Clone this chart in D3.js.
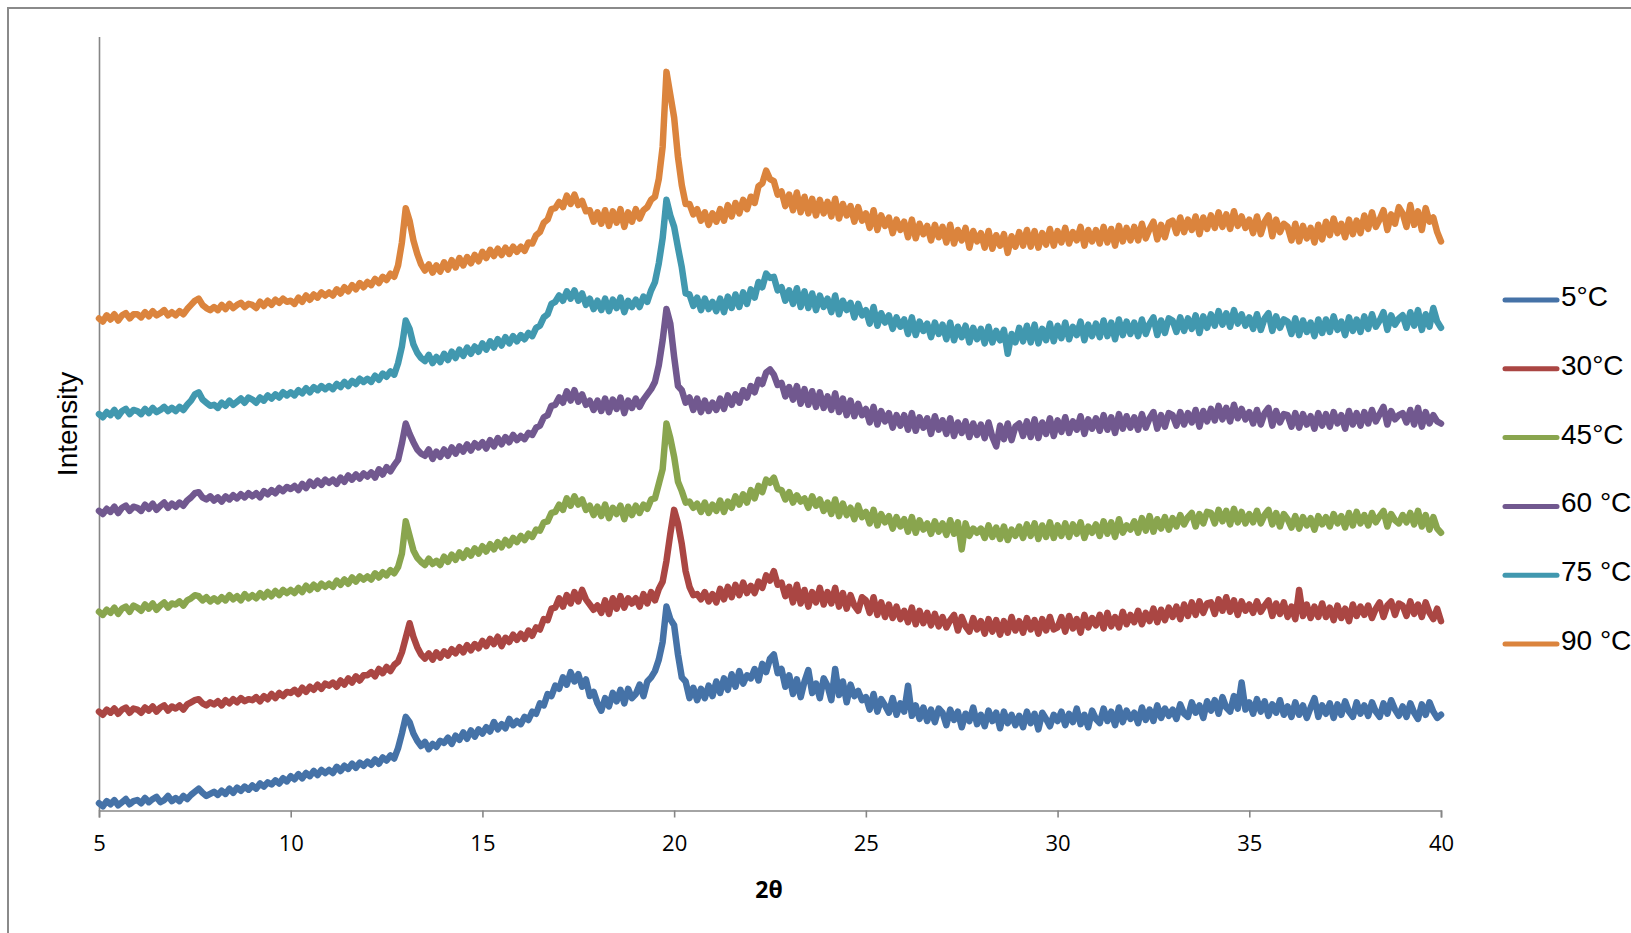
<!DOCTYPE html>
<html>
<head>
<meta charset="utf-8">
<script src="https://cdn.jsdelivr.net/npm/d3@7"></script>
<style>
  html, body { margin: 0; padding: 0; background: #ffffff; }
  svg { display: block; }
</style>
</head>
<body>
<svg id="chart" width="1631" height="933"></svg>
<script>
// ---- Data (intensity in arbitrary units, sampled every 0.1° of 2θ from 5 to 40) ----
const thetaStart = 5, thetaStep = 0.1;
const xTicks = [5, 10, 15, 20, 25, 30, 35, 40];
const seriesNames = ["5°C", "30°C", "45°C", "60 °C", "75 °C", "90 °C"];
const seriesColors = ["#4572A7", "#AA4643", "#89A54E", "#71588F", "#4198AF", "#DB843D"];
const xLabel = "2θ";
const yLabel = "Intensity";

const s5 = [
 7,4,9,6,10,5,8,11,6,9,
 10,7,12,8,11,13,8,10,14,9,
 12,9,14,11,15,18,21,17,14,16,
 18,15,19,16,21,17,22,19,23,20,
 24,21,26,23,27,25,29,26,31,28,
 33,30,35,31,36,33,38,34,39,36,
 39,36,42,38,43,40,45,41,46,43,
 47,44,49,45,51,48,53,50,60,74,
 90,85,74,67,62,66,59,64,61,67,
 65,70,64,72,68,75,69,77,71,78,
 74,80,76,85,78,83,79,88,82,86,
 83,90,87,95,93,103,101,112,110,120,
 117,128,121,133,124,131,119,126,110,114,
 103,96,108,100,113,105,116,103,117,108,
 112,121,110,124,128,134,145,162,196,184,
 178,150,128,124,108,118,106,117,108,120,
 110,124,113,127,116,131,119,134,122,130,
 127,136,125,141,133,146,150,132,136,119,
 130,112,126,109,124,135,113,122,108,127,
 120,106,136,111,124,104,121,110,115,106,
 109,97,112,95,107,101,94,108,92,103,
 95,120,91,101,88,99,86,97,85,98,
 94,82,97,87,95,80,93,86,99,83,
 92,81,96,86,94,79,95,84,92,82,
 91,80,95,84,93,78,94,88,81,92,
 86,95,82,93,85,98,83,92,80,96,
 88,84,98,86,95,82,99,85,96,88,
 94,84,99,87,97,86,101,89,98,91,
 97,88,102,93,90,104,94,101,89,105,
 96,106,93,109,99,95,110,98,123,97,
 104,93,107,95,105,91,102,94,106,92,
 100,90,104,92,101,89,99,108,90,101,
 93,103,89,102,92,105,95,90,104,93,
 101,91,104,95,90,103,93,106,97,91,
 100,90,103,94,88,102,92,104,95,89,
 92
];

const s30 = [
 95,92,97,94,98,93,97,99,94,98,
 97,94,99,96,100,95,99,101,96,100,
 98,101,97,102,104,106,107,103,101,104,
 102,105,101,106,103,107,104,108,105,107,
 106,109,105,110,107,112,108,113,110,114,
 113,116,112,118,114,119,116,121,117,122,
 120,123,119,125,121,127,123,129,125,130,
 130,133,129,136,132,138,134,140,143,152,
 166,180,167,157,150,146,151,145,152,147,
 153,149,155,151,157,152,159,154,160,156,
 163,158,165,160,167,158,166,162,169,164,
 170,165,173,168,176,174,184,183,194,195,
 204,196,207,199,210,201,212,203,198,193,
 197,190,202,189,204,194,206,195,204,199,
 204,196,208,199,210,202,213,220,240,266,
 289,276,256,230,215,207,208,203,210,201,
 208,200,213,203,215,205,217,207,219,209,
 216,209,220,214,226,221,230,217,219,206,
 215,200,217,199,212,196,210,200,214,198,
 210,199,214,196,209,194,207,197,192,205,
 202,190,205,188,200,186,198,185,196,184,
 192,181,195,179,192,180,190,178,189,177,
 186,176,183,188,173,186,177,172,185,174,
 182,170,184,172,183,169,182,171,186,173,
 182,171,185,174,183,170,184,173,186,174,
 176,186,172,187,175,184,171,188,176,185,
 178,188,175,190,177,186,176,191,179,188,
 181,192,179,190,182,194,181,193,183,195,
 186,196,184,198,187,200,188,201,190,199,
 200,189,203,192,205,191,202,188,201,192,
 198,190,201,191,197,202,187,199,189,200,
 186,196,184,212,187,198,185,196,186,199,
 186,195,183,197,185,194,182,198,187,196,
 188,197,185,194,200,186,197,201,188,199,
 197,187,201,189,198,186,200,190,184,194,
 182
];

const s45 = [
 191,188,193,190,195,189,194,196,191,197,
 195,192,198,194,199,193,197,200,195,199,
 198,201,197,202,204,207,206,202,205,201,
 204,201,205,202,207,203,206,202,208,204,
 207,204,209,205,210,206,211,207,212,209,
 212,209,214,210,216,212,217,213,218,215,
 218,215,221,217,222,218,224,220,225,222,
 225,222,228,224,229,226,231,228,234,247,
 278,264,250,243,239,236,242,237,240,236,
 244,239,246,241,248,243,250,245,252,247,
 254,249,256,251,258,253,260,255,262,258,
 264,260,266,263,270,269,277,278,286,287,
 294,289,300,293,302,294,299,289,293,284,
 292,283,294,281,291,285,293,280,292,284,
 293,286,294,290,299,300,314,328,372,358,
 340,316,307,296,297,291,295,287,296,286,
 294,288,298,287,297,291,302,294,304,296,
 308,300,312,306,318,315,320,309,308,299,
 306,296,303,297,300,291,302,293,299,288,
 296,285,299,283,295,284,291,280,293,282,
 287,276,289,274,285,277,283,271,282,273,
 280,268,282,267,279,270,276,266,278,268,
 276,265,279,266,277,251,276,264,271,267,
 271,262,274,263,272,261,273,260,270,264,
 273,262,275,264,276,261,274,263,277,262,
 274,264,276,263,275,266,277,262,273,267,
 275,264,278,266,277,263,280,267,274,270,
 278,267,281,269,283,268,280,271,282,270,
 281,273,284,275,282,286,273,285,276,287,
 286,276,289,278,288,275,290,277,287,276,
 285,277,288,276,284,289,275,286,273,285,
 280,272,283,271,282,274,281,270,283,275,
 282,273,285,276,283,272,286,274,287,276,
 284,274,286,277,283,288,273,285,279,276,
 284,277,286,275,288,273,284,270,282,271,
 267
];

const s60 = [
 288,285,290,287,292,286,291,293,288,292,
 291,288,294,290,295,289,293,296,291,295,
 292,296,293,298,301,305,306,301,299,302,
 298,301,297,302,299,303,300,304,301,305,
 302,305,301,307,304,308,305,310,307,311,
 309,312,308,314,310,316,312,317,313,318,
 315,318,314,320,316,322,318,323,319,324,
 321,325,320,328,323,330,326,332,337,353,
 372,362,354,347,343,341,347,338,345,340,
 347,341,349,343,350,345,352,346,353,349,
 354,348,356,350,358,352,359,354,361,356,
 360,357,363,361,368,370,378,380,389,390,
 397,392,403,394,404,393,400,390,394,385,
 394,384,396,383,395,386,397,382,394,387,
 396,388,395,400,405,412,428,452,482,468,
 436,408,404,392,397,385,396,383,394,384,
 392,385,396,386,399,390,400,392,404,397,
 408,402,414,410,421,424,419,409,411,398,
 407,395,408,391,405,390,403,388,402,387,
 398,385,401,383,396,380,394,379,391,380,
 386,373,388,371,384,374,382,368,380,370,
 380,366,382,365,378,368,377,362,379,366,
 375,362,377,360,373,363,374,359,372,361,
 371,358,373,359,350,370,357,372,356,369,
 372,360,374,359,376,358,373,362,377,360,
 375,364,378,363,374,366,379,362,376,367,
 377,365,380,366,378,363,381,367,379,368,
 378,366,381,368,377,383,367,380,369,382,
 380,370,383,371,382,373,385,369,384,374,
 386,375,389,376,387,374,390,377,386,376,
 383,372,385,371,382,387,370,384,373,381,
 380,369,382,368,381,371,379,367,382,370,
 381,369,383,372,380,367,384,371,382,370,
 383,372,385,374,381,388,371,384,376,380,
 382,373,385,371,387,369,383,372,380,374,
 372
];

const s75 = [
 381,378,383,380,385,379,384,386,381,385,
 384,381,386,382,387,383,385,388,384,387,
 384,388,385,390,394,400,402,395,392,389,
 390,387,392,389,394,390,393,396,392,397,
 395,392,397,394,399,396,400,397,402,399,
 402,399,404,401,406,402,407,404,408,405,
 408,405,410,407,412,408,413,410,415,412,
 415,412,418,414,420,417,422,419,430,446,
 471,463,448,440,435,432,438,430,436,431,
 439,433,441,435,443,437,445,439,446,441,
 449,443,451,445,453,447,455,449,456,451,
 457,453,459,456,464,466,474,477,487,489,
 495,490,499,492,500,490,497,486,492,482,
 490,481,492,480,491,483,493,479,490,484,
 491,484,494,489,500,508,526,550,587,572,
 561,541,522,497,496,485,493,481,492,482,
 489,480,492,479,494,483,496,484,498,487,
 501,493,508,503,516,512,513,500,503,490,
 500,487,502,484,499,483,497,481,495,484,
 492,479,495,477,490,481,488,474,487,476,
 481,468,484,466,478,469,476,463,474,465,
 472,458,474,457,470,461,468,455,469,458,
 467,453,469,452,465,455,466,450,464,453,
 463,449,465,450,461,452,462,439,458,450,
 464,451,466,450,467,449,463,452,468,451,
 466,454,469,453,465,457,470,452,467,456,
 468,455,471,456,469,453,472,457,470,458,
 469,456,472,458,468,474,457,471,459,473,
 471,460,474,461,473,463,476,459,475,464,
 477,466,480,467,478,465,481,468,477,466,
 474,463,477,462,473,478,461,475,464,472,
 470,458,473,457,471,460,469,456,472,459,
 472,460,475,462,470,457,474,461,472,460,
 475,463,477,465,471,479,462,476,467,473,
 476,464,479,466,481,462,477,465,483,470,
 464
];

const s90 = [
 473,470,476,472,477,471,476,478,473,477,
 477,474,479,475,480,476,478,481,476,479,
 476,480,477,482,486,490,492,486,483,481,
 484,481,486,482,487,483,486,488,484,487,
 486,483,489,485,490,486,491,488,492,489,
 490,487,493,489,495,491,496,493,498,495,
 498,495,501,497,503,499,505,501,507,503,
 508,505,511,507,513,510,516,513,524,546,
 579,567,548,535,525,519,525,517,524,518,
 527,520,529,522,531,524,532,526,534,528,
 537,531,539,533,540,534,541,535,542,537,
 542,538,546,545,553,556,565,568,578,579,
 585,580,591,583,592,582,586,576,577,566,
 575,564,577,562,576,565,578,561,575,566,
 578,569,577,580,587,590,607,638,710,688,
 666,628,601,583,583,573,578,567,575,563,
 574,566,578,567,582,571,584,574,587,578,
 590,584,600,603,615,607,605,592,595,581,
 592,577,594,575,590,574,588,572,587,574,
 585,571,588,569,583,572,581,566,580,567,
 574,560,577,558,572,562,570,555,568,558,
 566,551,568,550,564,554,562,548,563,551,
 561,546,563,545,558,548,560,541,557,547,
 555,541,557,540,553,543,554,536,552,542,
 556,543,558,542,557,541,555,544,559,543,
 557,546,560,545,556,548,561,543,558,547,
 558,545,561,546,559,543,562,547,560,548,
 561,548,564,550,559,566,549,563,551,565,
 567,555,570,556,568,558,571,554,570,559,
 572,560,575,561,573,559,576,562,571,560,
 568,555,571,554,566,572,552,568,556,564,
 561,548,564,547,562,550,560,546,563,549,
 566,553,569,555,564,551,568,554,567,555,
 572,559,575,561,568,577,558,573,564,580,
 574,561,582,563,576,558,579,566,570,556,
 547
];

const allSeries = [s5, s30, s45, s60, s75, s90];

// ---- Drawing ----
const svg = d3.select("#chart");

// outer chart frame
svg.append("rect")
  .attr("x", 8).attr("y", 8)
  .attr("width", 1750).attr("height", 1000)
  .attr("fill", "none")
  .attr("stroke", "#8a8a8a")
  .attr("stroke-width", 2);

const plot = { left: 99, right: 1441, top: 36.5, bottom: 810.5 };

const x = d3.scaleLinear().domain([5, 40]).range([plot.left, plot.right]);
const y = d3.scaleLinear().domain([0, 744]).range([plot.bottom, plot.top]);

// x axis
const xAxis = d3.axisBottom(x)
  .tickValues(xTicks)
  .tickSize(7)
  .tickPadding(18)
  .tickFormat(d3.format("d"));

const gx = svg.append("g")
  .attr("transform", `translate(0,${plot.bottom})`)
  .call(xAxis);
gx.select(".domain").attr("stroke", "#868686").attr("stroke-width", 1.6);
gx.selectAll(".tick line").attr("stroke", "#868686").attr("stroke-width", 1.6);
gx.selectAll(".tick text")
  .attr("fill", "#000")
  .style("font-family", "'Open Sans', 'Noto Sans', sans-serif")
  .style("font-size", "22px");

// y axis (line only)
const yAxis = d3.axisLeft(y).tickValues([]).tickSizeOuter(0);
const gy = svg.append("g")
  .attr("transform", `translate(${plot.left},0)`)
  .call(yAxis);
gy.select(".domain").attr("stroke", "#868686").attr("stroke-width", 1.6);

// axis titles
svg.append("text")
  .attr("x", 769).attr("y", 898)
  .attr("text-anchor", "middle")
  .style("font-family", "'Open Sans', 'Noto Sans', sans-serif")
  .style("font-weight", "bold")
  .style("font-size", "23px")
  .attr("fill", "#000")
  .text(xLabel);

svg.append("text")
  .attr("transform", "translate(77,424) rotate(-90)")
  .attr("text-anchor", "middle")
  .style("font-family", "'Liberation Sans', Arial, sans-serif")
  .style("font-size", "28px")
  .attr("fill", "#000")
  .text(yLabel);

// series lines
const line = d3.line()
  .x((d, i) => x(thetaStart + i * thetaStep))
  .y(d => y(d))
  .curve(d3.curveLinear);

const clipId = "plotClip";
svg.append("clipPath").attr("id", clipId)
  .append("rect")
  .attr("x", plot.left - 5).attr("y", plot.top - 10)
  .attr("width", plot.right - plot.left + 10)
  .attr("height", plot.bottom - plot.top + 10);

const gLines = svg.append("g").attr("clip-path", `url(#${clipId})`);
allSeries.forEach((s, k) => {
  gLines.append("path")
    .datum(s)
    .attr("fill", "none")
    .attr("stroke", seriesColors[k])
    .attr("stroke-width", 6.5)
    .attr("stroke-linejoin", "round")
    .attr("stroke-linecap", "round")
    .attr("d", line);
});

// legend
const legendTop = 300, legendStep = 68.8;
const gLeg = svg.append("g");
seriesNames.forEach((name, k) => {
  const ly = legendTop + k * legendStep;
  gLeg.append("line")
    .attr("x1", 1505).attr("x2", 1557)
    .attr("y1", ly).attr("y2", ly)
    .attr("stroke", seriesColors[k])
    .attr("stroke-width", 5)
    .attr("stroke-linecap", "round");
  gLeg.append("text")
    .attr("x", 1561).attr("y", ly + 6)
    .style("font-family", "'Liberation Sans', Arial, sans-serif")
    .style("font-size", "28px")
    .attr("fill", "#000")
    .text(name);
});
</script>
</body>
</html>
